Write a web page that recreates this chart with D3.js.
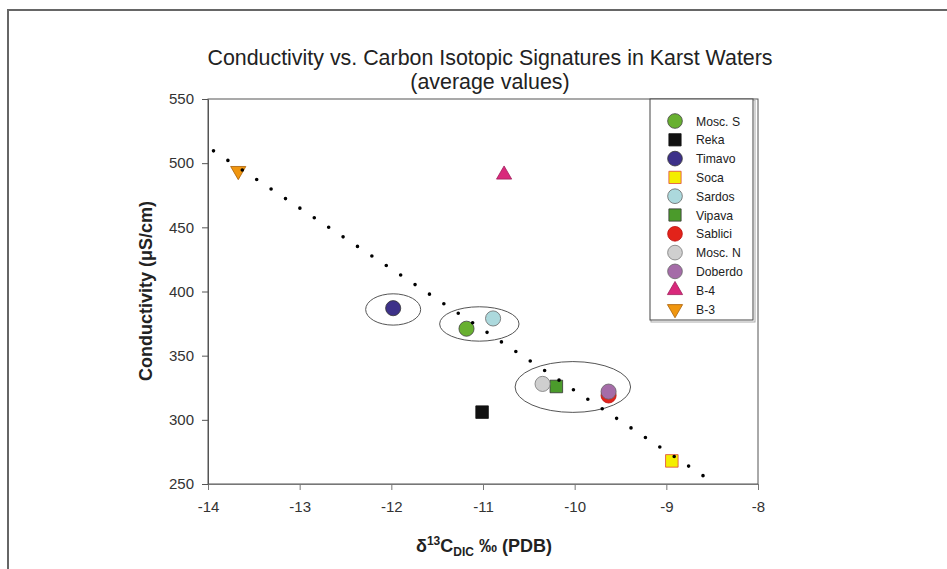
<!DOCTYPE html>
<html>
<head>
<meta charset="utf-8">
<script src="https://cdn.jsdelivr.net/npm/d3@7"></script>
<style>
  body { margin: 0; background: #fff; }
  text { font-family: "Liberation Sans", Arial, sans-serif; }
</style>
</head>
<body>
<script>
// sites in legend order
var sites = ['Mosc. S', 'Reka', 'Timavo', 'Soca', 'Sardos', 'Vipava', 'Sablici', 'Mosc. N', 'Doberdo', 'B-4', 'B-3'];
var d13C = [-11.18, -11.01, -11.98, -8.94, -10.89, -10.20, -9.63, -10.35, -9.63, -10.77, -13.67];
var conductivity = [371, 306, 387, 268, 379, 326, 319, 328, 322, 491, 494];

// fitted trend line (end points)
var trendX = [-13.94, -8.60];
var trendY = [509.6, 256.5];

// groups circled on the chart: centre and half-widths in data units
var groupCx = [-11.98, -11.04, -10.02];
var groupCy = [386, 374.7, 325.6];
var groupRx = [0.30, 0.433, 0.63];
var groupRy = [12.2, 13.4, 19.8];

var xTicks = [-14, -13, -12, -11, -10, -9, -8];
var yTicks = [250, 300, 350, 400, 450, 500, 550];

var shapes = ['circle', 'square', 'circle', 'square', 'circle', 'square', 'circle', 'circle', 'circle', 'up', 'down'];
var fills = ['#68b030', '#111111', '#3d3189', '#f4ee00', '#acd9dd', '#4b9b2b', '#e2231a', '#cfcfcf', '#a56ca8', '#d9287b', '#f0960f'];
var strokes = ['#444', '#111', '#333', '#e0483c', '#666', '#333', '#b11', '#777', '#666', '#a01e5c', '#a86008'];

var width = 947, height = 569;
var margin = {left: 208, right: 189, top: 99, bottom: 85};
var w = width - margin.left - margin.right,
    h = height - margin.top - margin.bottom;

var x = d3.scaleLinear().domain([-14, -8]).range([0, w]);
var y = d3.scaleLinear().domain([250, 550]).range([h, 0]);

var svg = d3.select('body').append('svg').attr('width', width).attr('height', height);

// outer frame (left and top only visible)
svg.append('path')
  .attr('d', 'M8,' + height + 'V10H' + width)
  .attr('fill', 'none').attr('stroke', '#666').attr('stroke-width', 2);

svg.append('text').attr('x', 490).attr('y', 65).attr('text-anchor', 'middle')
  .attr('font-size', 21.4).attr('fill', '#222')
  .text('Conductivity vs. Carbon Isotopic Signatures in Karst Waters');
svg.append('text').attr('x', 490).attr('y', 89).attr('text-anchor', 'middle')
  .attr('font-size', 21.4).attr('fill', '#222')
  .text('(average values)');

var chartGroup = svg.append('g')
  .attr('transform', 'translate(' + margin.left + ',' + margin.top + ')');

// plot box
chartGroup.append('rect').attr('width', w).attr('height', h)
  .attr('fill', 'none').attr('stroke', '#555').attr('stroke-width', 1);

var xAxis = d3.axisBottom(x).tickValues(xTicks).tickSize(6).tickSizeOuter(0).tickFormat(d3.format('d'));
var yAxis = d3.axisLeft(y).tickValues(yTicks).tickSize(6).tickSizeOuter(0);

var gx = chartGroup.append('g').attr('class', 'axis x').attr('transform', 'translate(0,' + h + ')').call(xAxis);
var gy = chartGroup.append('g').attr('class', 'axis y').call(yAxis);
gx.select('.domain').attr('stroke', '#777');
gy.select('.domain').attr('stroke', '#555');
gx.selectAll('.tick line').attr('stroke', '#777');
gy.selectAll('.tick line').attr('stroke', '#555');
gx.selectAll('.tick text').attr('font-size', 15).attr('fill', '#333').attr('y', 11).attr('dy', '1.1em')
  .text(function(d){ return d < 0 ? '-' + Math.abs(d) : d; });
gy.selectAll('.tick text').attr('font-size', 15).attr('fill', '#333').attr('x', -14);
svg.selectAll('.axis text').attr('font-family', '"Liberation Sans", Arial, sans-serif');

// axis titles
var xl = svg.append('text').attr('x', 484).attr('y', 552).attr('text-anchor', 'middle')
  .attr('font-size', 18).attr('font-weight', 'bold').attr('fill', '#222');
xl.append('tspan').text('δ');
xl.append('tspan').attr('font-size', 12).attr('dy', -7).text('13');
xl.append('tspan').attr('dy', 7).text('C');
xl.append('tspan').attr('font-size', 12).attr('dy', 4).text('DIC');
xl.append('tspan').attr('dy', -4).text(' ‰ (PDB)');

svg.append('text').attr('transform', 'translate(152,291) rotate(-90)').attr('text-anchor', 'middle')
  .attr('font-size', 18).attr('font-weight', 'bold').attr('fill', '#222')
  .text('Conductivity (μS/cm)');

// circled groups
groupCx.forEach(function(cx, i){
  chartGroup.append('ellipse')
    .attr('cx', x(cx)).attr('cy', y(groupCy[i]))
    .attr('rx', x(cx + groupRx[i]) - x(cx))
    .attr('ry', y(groupCy[i] - groupRy[i]) - y(groupCy[i]))
    .attr('fill', 'none').attr('stroke', '#555').attr('stroke-width', 1);
});

function symbolPath(shape, big){
  if (shape === 'circle') return d3.symbol().type(d3.symbolCircle).size(big ? 180 : 170)();
  if (shape === 'square') return d3.symbol().type(d3.symbolSquare).size(big ? 158 : 150)();
  return d3.symbol().type(d3.symbolTriangle).size(big ? 100 : 100)();
}
function symbolTransform(shape, px, py){
  return 'translate(' + px + ',' + py + ')' + (shape === 'down' ? ' rotate(180)' : '');
}

var data = sites.map(function(s, i){ return {site: s, x: d13C[i], y: conductivity[i], i: i}; });

chartGroup.selectAll('.pt').data(data).enter().append('path').attr('class', 'pt')
  .attr('d', function(d){ return symbolPath(shapes[d.i], true); })
  .attr('transform', function(d){ return symbolTransform(shapes[d.i], x(d.x), y(d.y)); })
  .attr('fill', function(d){ return fills[d.i]; })
  .attr('stroke', function(d){ return strokes[d.i]; })
  .attr('stroke-width', 0.8);

// dotted trend line
var line = d3.line()
  .x(function(d){ return x(d[0]); })
  .y(function(d){ return y(d[1]); });
var trend = chartGroup.append('path')
  .attr('d', line(trendX.map(function(v, i){ return [v, trendY[i]]; })))
  .attr('fill', 'none').attr('stroke', '#000').attr('stroke-width', 3.6)
  .attr('stroke-linecap', 'round');
var len = trend.node().getTotalLength();
trend.attr('stroke-dasharray', '0,' + (len / 34));

// legend
var legend = svg.append('g').attr('transform', 'translate(650,99)');
legend.append('rect').attr('x', 1).attr('y', 1).attr('width', 104).attr('height', 222)
  .attr('fill', 'none').attr('stroke', '#aaa').attr('stroke-width', 1);
legend.append('rect').attr('width', 103).attr('height', 221)
  .attr('fill', '#fff').attr('stroke', '#444').attr('stroke-width', 1);
var rows = legend.selectAll('.row').data(data).enter().append('g').attr('class', 'row')
  .attr('transform', function(d, i){ return 'translate(0,' + (22 + i * 18.8) + ')'; });
rows.append('path')
  .attr('d', function(d){ return symbolPath(shapes[d.i], false); })
  .attr('transform', function(d){ return symbolTransform(shapes[d.i], 25, 0); })
  .attr('fill', function(d){ return fills[d.i]; })
  .attr('stroke', function(d){ return strokes[d.i]; })
  .attr('stroke-width', 0.8);
rows.append('text').attr('x', 46).attr('y', 4.5).attr('font-size', 12.2).attr('fill', '#222')
  .text(function(d){ return d.site; });
</script>
</body>
</html>
